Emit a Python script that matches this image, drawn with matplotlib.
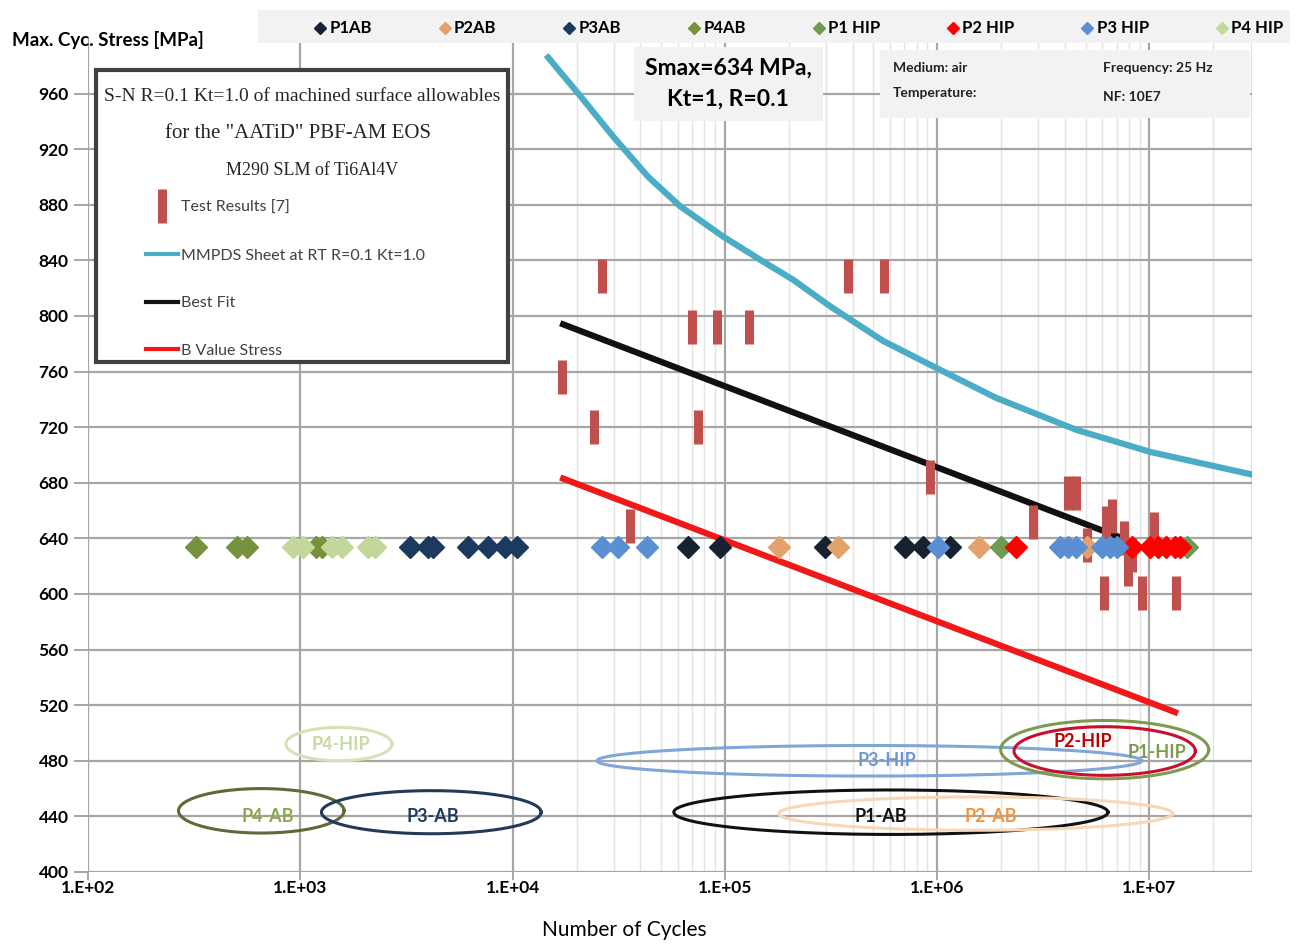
import numpy as np
import matplotlib
matplotlib.use("Agg")
import matplotlib.pyplot as plt
from matplotlib.lines import Line2D
from matplotlib.patches import Rectangle
from matplotlib.ticker import FixedLocator, FuncFormatter, NullFormatter

SANS = ['Lato', 'DejaVu Sans']
SERIF = ['Liberation Serif', 'DejaVu Serif']
plt.rcParams['font.family'] = SANS

### Data START

smax = 634  # all specimens tested at the same max stress

p1ab_n = [6.73e4, 9.48e4, 2.96e5, 7.05e5, 8.6e5, 1.15e6]
p2ab_n = [1.79e5, 3.42e5, 1.58e6, 5.06e6]
p3ab_n = [3.29e3, 4.01e3, 4.24e3, 6.18e3, 7.69e3, 9.2e3, 1.045e4]
p4ab_n = [3.21e2, 5.05e2, 5.58e2, 1.19e3, 1.26e3]
p1hip_n = [1.99e6, 1.50e7]
p2hip_n = [2.34e6, 8.24e6, 1.005e7, 1.10e7, 1.20e7, 1.32e7, 1.39e7]
p3hip_n = [2.63e4, 3.15e4, 4.28e4, 1.01e6, 3.79e6, 4.15e6, 4.51e6, 5.96e6, 6.52e6, 7.01e6]
p4hip_n = [9.27e2, 1.033e3, 1.41e3, 1.57e3, 2.08e3, 2.25e3]

series_names = ['P1AB', 'P2AB', 'P3AB', 'P4AB', 'P1 HIP', 'P2 HIP', 'P3 HIP', 'P4 HIP']
series_n = [p1ab_n, p2ab_n, p3ab_n, p4ab_n, p1hip_n, p2hip_n, p3hip_n, p4hip_n]
series_colors = ['#16222F', '#E3A26C', '#1B3A5E', '#76923C', '#6F9A50', '#FF0000', '#5B8FD3', '#C3D69B']

# test results [7] (vertical bars)
test_n = [1.71e4, 2.43e4, 2.65e4, 3.57e4, 7.0e4, 7.5e4, 9.14e4, 1.30e5, 3.81e5, 5.63e5,
          9.25e5, 2.82e6, 4.15e6, 4.51e6, 5.06e6, 6.11e6, 6.24e6, 6.64e6, 7.6e6, 7.9e6,
          8.3e6, 9.25e6, 1.05e7, 1.34e7]
test_s = [756, 720, 829, 649, 792, 720, 792, 792, 829, 829,
          684, 652, 673, 673, 635, 601, 651, 656, 640, 618,
          628, 601, 647, 601]

# MMPDS sheet at RT R=0.1 Kt=1.0
mmpds_n = [1.47e4, 2.04e4, 2.98e4, 4.36e4, 6.15e4, 9.84e4, 1.52e5, 2.10e5, 3.13e5,
           5.57e5, 1.01e6, 1.90e6, 4.54e6, 1.02e7, 3.03e7]
mmpds_s = [986, 960, 929, 900, 879, 857, 839, 826, 807,
           782, 762, 741, 718, 702, 686]

# best fit and B value lines
fit_n = [1.73e4, 7.5e6]
fit_s = [794, 640]
bval_n = [1.73e4, 1.32e7]
bval_s = [683, 515]

# group ellipses: name, centre N, centre S, width [decades], height [MPa]
ell_names = ['P4-HIP', 'P4-AB', 'P3-AB', 'P3-HIP', 'P1-AB', 'P2-AB', 'P1-HIP', 'P2-HIP']
ell_cn = [1.52e3, 6.55e2, 4.14e3, 4.79e5, 6.05e5, 1.52e6, 6.15e6, 6.15e6]
ell_cs = [492, 444, 443, 480, 443, 442, 488, 487]
ell_w = [0.50, 0.78, 1.035, 2.565, 2.045, 1.856, 0.98, 0.854]
ell_h = [24, 32, 31, 22, 32, 24, 42, 35]
ell_edge = ['#D5E2B8', '#5D6B38', '#23395A', '#7FA6D6', '#111111', '#F8D6B8', '#7E9A4C', '#C8102E']
ell_text = ['#C9D9A4', '#8CA64A', '#1F3A5E', '#6A98D6', '#111111', '#F0953E', '#7E9A4C', '#C00000']
lab_n = [1.56e3, 7.05e2, 4.2e3, 5.8e5, 5.4e5, 1.78e6, 1.08e7, 4.86e6]
lab_s = [492, 440, 440, 480, 440, 440, 486, 494]

# inset box title lines
box_title = ['S-N R=0.1 Kt=1.0 of machined surface allowables',
             'for the "AATiD" PBF-AM EOS',
             'M290 SLM of Ti6Al4V']
box_labels = ['Test Results [7]', 'MMPDS Sheet at RT R=0.1 Kt=1.0', 'Best Fit', 'B Value Stress']

yticks = np.arange(400, 961, 40)
xticks = [1e2, 1e3, 1e4, 1e5, 1e6, 1e7]

### Data END

fig = plt.figure(figsize=(13.02, 9.48), dpi=100)
ax = fig.add_axes([0.0676, 0.0802, 0.894, 0.8797])

ax.set_xscale('log')
ax.set_xlim(1e2, 3.04e7)
ax.set_ylim(400, 1000)

# grid: majors everywhere, minor verticals only from 1E+04 on
minor = [m * 10.0 ** d for d in range(4, 8) for m in range(2, 10) if m * 10.0 ** d < 3.04e7]
ax.xaxis.set_major_locator(FixedLocator(xticks))
ax.xaxis.set_minor_locator(FixedLocator(minor))
ax.xaxis.set_minor_formatter(NullFormatter())
ax.xaxis.set_major_formatter(FuncFormatter(lambda v, p: '1.E+%02d' % round(np.log10(v))))
ax.set_yticks(yticks)
ax.grid(True, which='major', axis='both', color='#A6A6A6', lw=1.6, zorder=0)
ax.grid(True, which='minor', axis='x', color='#E3E3E3', lw=1.0, zorder=0)
ax.set_axisbelow(True)
for sp in ax.spines.values():
    sp.set_visible(False)
ax.tick_params(axis='y', which='major', length=10, width=1.4, color='#A6A6A6',
               labelsize=12.5, pad=4)
ax.tick_params(axis='x', which='major', length=6, width=1.4, color='#A6A6A6',
               labelsize=12.5, pad=0)
ax.tick_params(axis='x', which='minor', length=0)
for lab in ax.get_xticklabels() + ax.get_yticklabels():
    lab.set_fontweight('bold')

# curves
mmpds, = ax.plot(mmpds_n, mmpds_s, color='#4BACC6', lw=4.5, zorder=3)
fit, = ax.plot(fit_n, fit_s, color='#111111', lw=4.5, zorder=3)
bval, = ax.plot(bval_n, bval_s, color='#F01818', lw=4.5, zorder=3)

# test result bars
ax.plot(test_n, test_s, ls='none', marker='|', ms=24, mew=6.5, color='#C0504D', zorder=4)

# specimen diamonds
handles = []
for name, n, c in zip(series_names, series_n, series_colors):
    h, = ax.plot(n, [smax] * len(n), ls='none', marker='D', ms=11, color=c,
                 mec=c, zorder=5, label=name)
    handles.append(h)

# group ellipses
t = np.linspace(0, 2 * np.pi, 300)
for i in range(len(ell_names)):
    ex = 10 ** (np.log10(ell_cn[i]) + ell_w[i] / 2 * np.cos(t))
    ey = ell_cs[i] + ell_h[i] / 2 * np.sin(t)
    ax.plot(ex, ey, color=ell_edge[i], lw=2.2, zorder=2)
    ax.text(lab_n[i], lab_s[i], ell_names[i], color=ell_text[i], fontsize=13,
            fontweight='bold', ha='center', va='center', zorder=6)

# inset box: frame, serif title lines and a frameless legend
ax.add_patch(Rectangle((0.0069, 0.6115), 0.3539, 0.3501, transform=ax.transAxes,
                       facecolor='white', edgecolor='#404040', lw=3, zorder=9))
for (x, y, size), s in zip([(0.1838, 0.9293, 14), (0.1804, 0.886, 15), (0.1924, 0.8417, 13)],
                           box_title):
    ax.text(x, y, s, transform=ax.transAxes, family=SERIF, fontsize=size,
            ha='center', va='center', color='#262626', zorder=10)

bar_h = Line2D([], [], ls='none', marker='|', ms=24, mew=6.5, color='#C0504D')
leg = ax.legend([bar_h, mmpds, fit, bval], box_labels,
                loc='upper left', bbox_to_anchor=(0.050, 0.805), frameon=False,
                borderaxespad=0, borderpad=0, labelspacing=2.1, handlelength=2.0,
                handletextpad=0.2, prop={'size': 11.5}, labelcolor='#404040')
leg.set_zorder(10)
for line in leg.get_lines()[1:]:
    line.set_linewidth(3)

# top legend strip
fig.patches.append(Rectangle((258 / 1302, 1 - 43 / 948), 1032 / 1302, 33 / 948,
                             transform=fig.transFigure, facecolor='#F2F2F2',
                             edgecolor='none', zorder=0))
fig.legend(handles=handles, labels=series_names, loc='lower left',
           bbox_to_anchor=(305 / 1302, 1 - 43 / 948, 985 / 1302, 33 / 948),
           mode='expand', ncol=8, frameon=False, borderaxespad=0, markerscale=0.55,
           handletextpad=0.05, handlelength=1.0, prop={'size': 12, 'weight': 'bold'})

# info boxes
ax.text(0.550, 0.945, 'Smax=634 MPa,\nKt=1, R=0.1', transform=ax.transAxes,
        ha='center', va='center', fontsize=16.5, fontweight='bold', linespacing=1.6,
        zorder=8, bbox=dict(facecolor='#F2F2F2', edgecolor='none', pad=8))
ax.add_patch(Rectangle((0.6804, 0.9041), 0.3179, 0.0815, transform=ax.transAxes,
                       facecolor='#F2F2F2', edgecolor='none', zorder=7))
info = [(0.6916, 0.964, 'Medium: air'), (0.6916, 0.934, 'Temperature:'),
        (0.872, 0.964, 'Frequency: 25 Hz'), (0.872, 0.929, 'NF: 10E7')]
for x, y, s in info:
    ax.text(x, y, s, transform=ax.transAxes, fontsize=10, fontweight='bold',
            va='center', color='#222222', zorder=8)

fig.text(12 / 1302, 1 - 40 / 948, 'Max. Cyc. Stress [MPa]', fontsize=13.5,
         fontweight='bold', va='center')
ax.set_xlabel('Number of Cycles', fontsize=15)
ax.xaxis.set_label_coords(0.461, -0.058)

fig.savefig('out.png', dpi=100)
